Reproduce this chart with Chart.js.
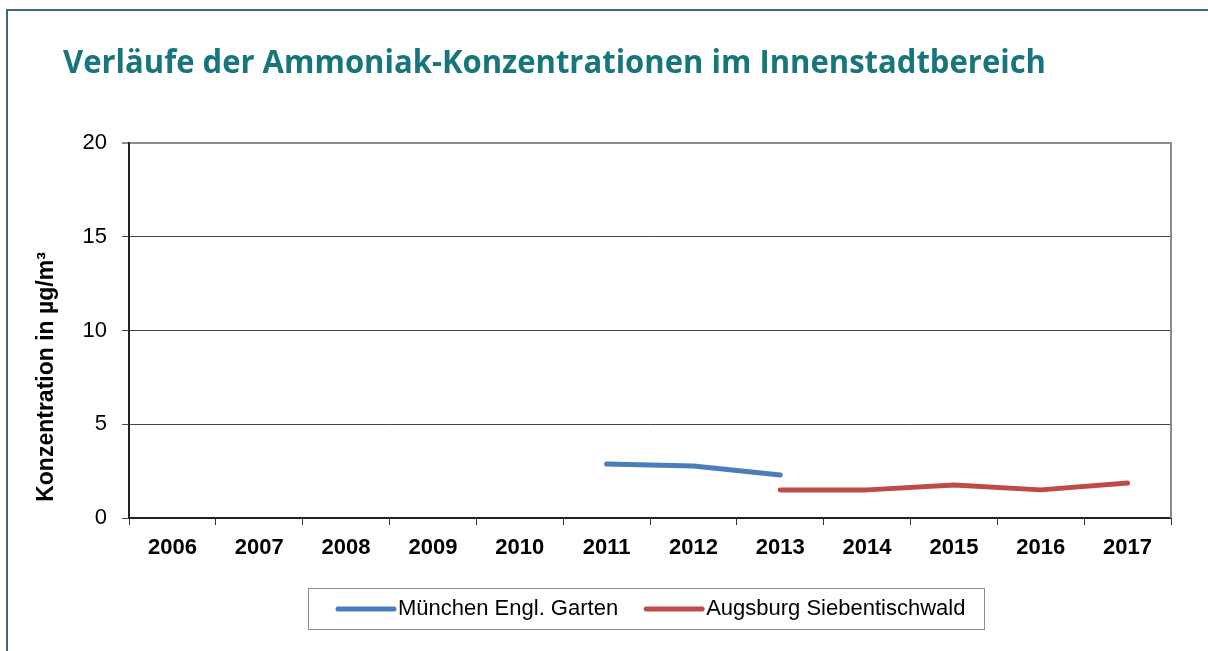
<!DOCTYPE html>
<html>
<head>
<meta charset="utf-8">
<script src="https://cdn.jsdelivr.net/npm/chart.js@4.4.0/dist/chart.umd.min.js"></script>
<style>
    html, body { margin: 0; padding: 0; background: #fff; }
    #wrap { position: relative; width: 1208px; height: 651px; }
</style>
</head>
<body>
<div id="wrap"><canvas id="myChart" width="1208" height="651"></canvas></div>
<script>
const chartTitle = 'Verläufe der Ammoniak-Konzentrationen im Innenstadtbereich';
const yAxisTitle = 'Konzentration in µg/m³';
const years = ['2006', '2007', '2008', '2009', '2010', '2011', '2012', '2013', '2014', '2015', '2016', '2017'];
const muenchen = [null, null, null, null, null, 2.88, 2.77, 2.29, null, null, null, null];
const augsburg = [null, null, null, null, null, null, null, 1.49, 1.50, 1.76, 1.50, 1.87];
const seriesNames = ['München Engl. Garten', 'Augsburg Siebentischwald'];
const seriesColors = ['#4a7ebb', '#be4b48'];
const yMin = 0, yMax = 20, yStep = 5;

// frame, titles, right border of the plot and the boxed legend
const decor = {
    id: 'decor',
    beforeDraw(chart) {
        const ctx = chart.ctx;
        ctx.save();
        ctx.fillStyle = '#fff';
        ctx.fillRect(0, 0, chart.width, chart.height);
        ctx.fillStyle = '#3b687e';
        ctx.fillRect(6, 9, chart.width - 6, 2);
        ctx.fillRect(6, 9, 2, chart.height - 9);
        ctx.restore();
    },
    afterDraw(chart) {
        const ctx = chart.ctx;
        const a = chart.chartArea;
        ctx.save();

        // right side of the plot area
        ctx.strokeStyle = '#8c8c8c';
        ctx.lineWidth = 2;
        ctx.beginPath();
        ctx.moveTo(a.right, a.top - 1);
        ctx.lineTo(a.right, a.bottom);
        ctx.stroke();

        // title
        ctx.font = 'bold 33px "Open Sans"';
        const tw = ctx.measureText(chartTitle).width;
        ctx.translate(63, 73);
        ctx.scale(983 / tw, 1);
        ctx.fillStyle = '#17767c';
        ctx.textBaseline = 'alphabetic';
        ctx.fillText(chartTitle, 0, 0);
        ctx.restore();

        // y axis title
        ctx.save();
        ctx.translate(47, 377);
        ctx.rotate(-Math.PI / 2);
        ctx.font = 'bold 23px "Liberation Sans"';
        ctx.fillStyle = '#000';
        ctx.textAlign = 'center';
        ctx.textBaseline = 'middle';
        ctx.fillText(yAxisTitle, 0, 0);
        ctx.restore();

        // legend
        ctx.save();
        ctx.strokeStyle = '#8c8c8c';
        ctx.lineWidth = 1;
        ctx.strokeRect(308.5, 588.5, 676, 41);
        ctx.font = '22px "Liberation Sans"';
        ctx.textBaseline = 'middle';
        ctx.fillStyle = '#000';
        let x = 338;
        const y = 609;
        chart.data.datasets.forEach(function (ds) {
            ctx.strokeStyle = ds.borderColor;
            ctx.lineWidth = 5;
            ctx.lineCap = 'round';
            ctx.beginPath();
            ctx.moveTo(x, y);
            ctx.lineTo(x + 56, y);
            ctx.stroke();
            ctx.fillText(ds.label, x + 60, y);
            x += 60 + ctx.measureText(ds.label).width + 28;
        });
        ctx.restore();
    }
};

const data = {
    labels: years,
    datasets: [
        {
            label: seriesNames[0],
            data: muenchen,
            borderColor: seriesColors[0],
            backgroundColor: seriesColors[0],
            borderWidth: 5,
            borderCapStyle: 'round',
            borderJoinStyle: 'round',
            pointRadius: 0,
            tension: 0,
            spanGaps: false
        },
        {
            label: seriesNames[1],
            data: augsburg,
            borderColor: seriesColors[1],
            backgroundColor: seriesColors[1],
            borderWidth: 5,
            borderCapStyle: 'round',
            borderJoinStyle: 'round',
            pointRadius: 0,
            tension: 0,
            spanGaps: false
        }
    ]
};

const scales = {
    x: {
        type: 'category',
        offset: true,
        afterFit(scale) { scale.height = 50; },
        grid: {
            offset: true,
            drawOnChartArea: false,
            drawTicks: true,
            tickLength: 7,
            color: '#333',
            lineWidth: 1
        },
        border: { display: true, color: '#222', width: 2 },
        ticks: {
            color: '#000',
            padding: 10,
            maxRotation: 0,
            autoSkip: false,
            font: { family: '"Liberation Sans"', size: 22, weight: 'bold' }
        }
    },
    y: {
        min: yMin,
        max: yMax,
        afterFit(scale) { scale.width = 129; },
        grid: {
            tickLength: 7,
            color(c) { return c.tick && c.tick.value === yMax ? '#8c8c8c' : '#444'; },
            lineWidth(c) { return c.tick && c.tick.value === yMax ? 2 : 1; }
        },
        border: { display: true, color: '#222', width: 2 },
        ticks: {
            stepSize: yStep,
            color: '#000',
            padding: 15,
            font: { family: '"Liberation Sans"', size: 22 }
        }
    }
};

new Chart(document.getElementById('myChart'), {
    type: 'line',
    data,
    options: {
        responsive: false,
        devicePixelRatio: 1,
        animation: false,
        layout: { padding: { top: 143, right: 37, bottom: 83, left: 0 } },
        scales: scales,
        plugins: {
            legend: { display: false },
            title: { display: false },
            tooltip: { enabled: false }
        }
    },
    plugins: [decor]
});
</script>
</body>
</html>
